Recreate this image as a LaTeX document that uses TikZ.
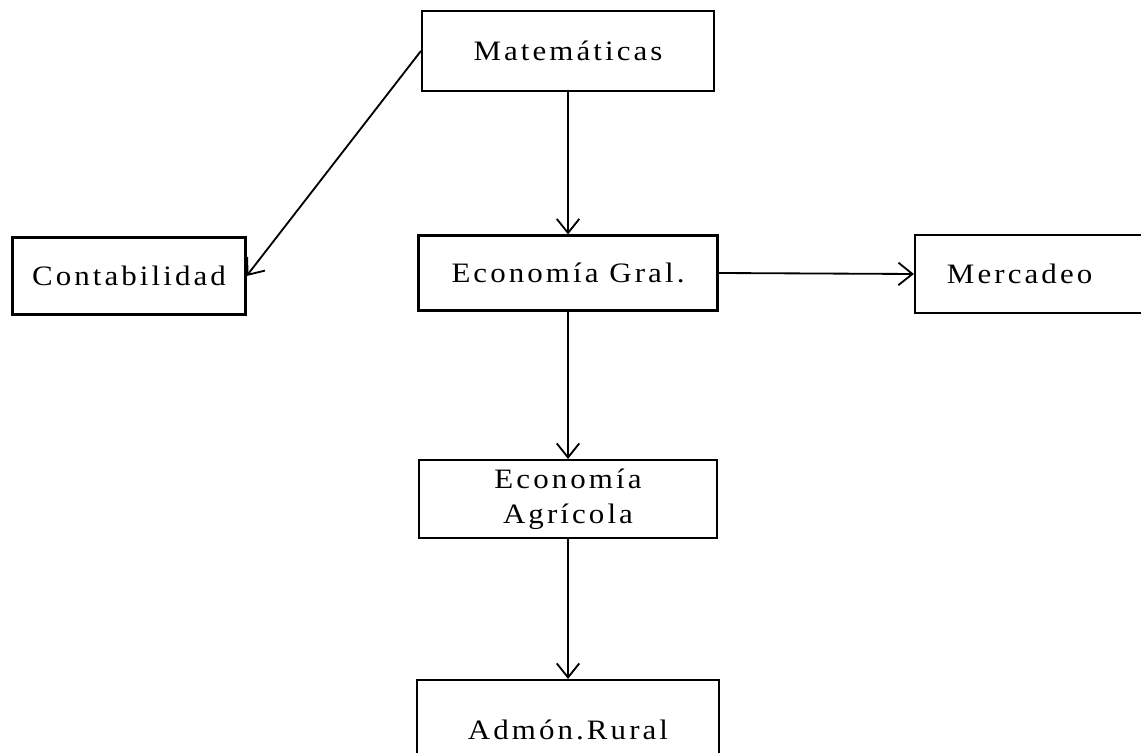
\documentclass[tikz,border=0pt]{standalone}
\usepackage{fontspec}
\setmainfont{Liberation Serif}[FakeStretch=1.1, LetterSpace=11]
\usetikzlibrary{arrows.meta}

\begin{document}
\begin{tikzpicture}[x=0.025cm, y=-0.025cm,
    every node/.style={font=\fontsize{20}{25}\selectfont},
    box/.style={draw, line width=1.5pt, inner sep=0pt, align=center},
    link/.style={line width=1.3pt, -{Straight Barb[length=10pt, width=16pt, line width=1.3pt]}}]
    \useasboundingbox (0,0) rectangle (1141,753);

    % Boxes
    \node[box, minimum width=7.3cm, minimum height=2cm] (mat) at (568,51) {Matemáticas};
    \node[box, minimum width=5.825cm, minimum height=1.925cm] (cont) at (129,276) {Contabilidad};
    \node[box, minimum width=7.475cm, minimum height=1.875cm] (gral) at (568,273) {Economía Gral.};
    \node[box, minimum width=6cm, minimum height=1.95cm, text width=4.4cm, align=left] (merc) at (1035,274) {Mercadeo};
    \node[box, minimum width=7.45cm, minimum height=1.95cm] (agr) at (568,499) {Economía\\Agrícola};
    \node[box, minimum width=7.55cm, minimum height=2.5cm] (adm) at (568,730) {Admón.Rural};

    % Arrows
    \draw[link] (mat.west) -- (cont.east);
    \draw[link] (mat.south) -- (gral.north);
    \draw[link] (gral.east) -- (merc.west);
    \draw[link] (gral.south) -- (agr.north);
    \draw[link] (agr.south) -- (adm.north);
\end{tikzpicture}
\end{document}
